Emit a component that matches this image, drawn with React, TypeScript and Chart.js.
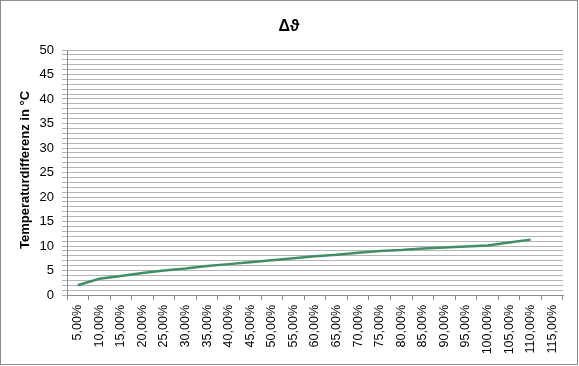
import React, { useEffect, useRef } from "react";
import { Chart, registerables } from "chart.js";

Chart.register(...registerables);

const categories = [
  "5,00%", "10,00%", "15,00%", "20,00%", "25,00%", "30,00%", "35,00%", "40,00%",
  "45,00%", "50,00%", "55,00%", "60,00%", "65,00%", "70,00%", "75,00%", "80,00%",
  "85,00%", "90,00%", "95,00%", "100,00%", "105,00%", "110,00%", "115,00%",
];
const deltaTheta = [
  2.0, 3.3, 3.9, 4.5, 5.0, 5.4, 5.9, 6.3, 6.7, 7.1, 7.5, 7.9, 8.2, 8.6, 9.0, 9.2,
  9.5, 9.7, 9.9, 10.1, 10.7, 11.3, null,
];
const chartTitle = "Δϑ";
const yTitle = "Temperaturdifferenz in °C";

const FONT = "'Liberation Sans', Arial, sans-serif";

const decorPlugin = {
  id: "decor",
  afterDraw(chart: any) {
    const ctx = chart.ctx;
    const area = chart.chartArea;
    ctx.save();
    ctx.strokeStyle = "#8c8c8c";
    ctx.lineWidth = 1;
    ctx.strokeRect(0.5, 0.5, chart.width - 2, chart.height - 2);
    ctx.fillStyle = "#000";
    ctx.font = `bold 16px ${FONT}`;
    ctx.textAlign = "center";
    ctx.textBaseline = "middle";
    ctx.fillText(chartTitle, 289, 27);
    ctx.font = `bold 13px ${FONT}`;
    ctx.translate(25, 170);
    ctx.rotate(-Math.PI / 2);
    ctx.fillText(yTitle, 0, 0);
    ctx.restore();
  },
};

export default function App() {
  const ref = useRef<HTMLCanvasElement>(null);
  useEffect(() => {
    document.body.style.margin = "0";
    const chart = new Chart(ref.current!, {
      type: "line",
      data: {
        labels: categories,
        datasets: [
          {
            data: deltaTheta,
            borderColor: "#3f8f63",
            borderWidth: 2.5,
            pointRadius: 0,
            tension: 0,
            fill: false,
          },
        ],
      },
      options: {
        animation: false,
        responsive: false,
        layout: { padding: { top: 50, right: 16, left: 0, bottom: 0 } },
        plugins: { legend: { display: false }, tooltip: { enabled: false }, title: { display: false } },
        scales: {
          x: {
            type: "category",
            offset: true,
            grid: {
              offset: true,
              drawOnChartArea: false,
              drawTicks: true,
              tickLength: 5,
              color: "#8c8c8c",
            },
            border: { color: "#8c8c8c", width: 1 },
            ticks: {
              autoSkip: false,
              minRotation: 90,
              maxRotation: 90,
              padding: 5,
              color: "#000",
              font: { family: FONT, size: 12.5 },
            },
            afterFit: (s: any) => {
              s.height = 71;
            },
          },
          y: {
            min: 0,
            max: 50,
            grid: {
              color: "#b4b4b4",
              tickLength: 5,
              lineWidth: 1,
            },
            border: { color: "#8c8c8c", width: 1 },
            ticks: {
              stepSize: 1,
              autoSkip: false,
              padding: 8,
              color: "#000",
              font: { family: FONT, size: 13 },
              callback: (v: any) => (Number(v) % 5 === 0 ? String(v) : ""),
            },
            afterFit: (s: any) => {
              s.width = 67;
            },
          },
        },
      },
      plugins: [decorPlugin],
    });
    return () => chart.destroy();
  }, []);
  return <canvas ref={ref} width={579} height={366} style={{ display: "block" }} />;
}
